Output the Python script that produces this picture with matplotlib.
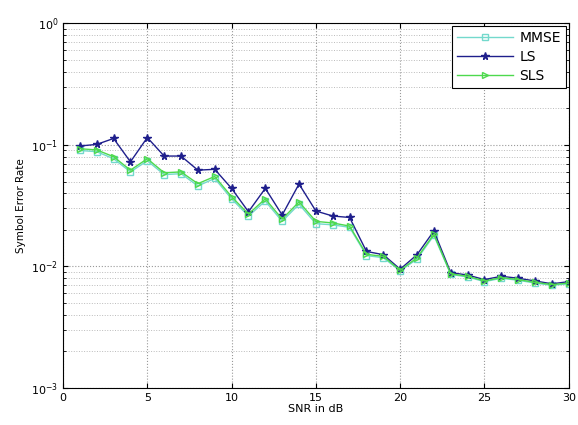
import matplotlib
matplotlib.use("Agg")
import matplotlib.pyplot as plt
from matplotlib.ticker import LogLocator, NullFormatter

snr = list(range(1, 31))
ls = [0.098, 0.101, 0.113, 0.0726, 0.115, 0.081, 0.081, 0.062, 0.063, 0.0439,
      0.0282, 0.0439, 0.0265, 0.0477, 0.0286, 0.026, 0.0253, 0.0133, 0.0125, 0.0095,
      0.0125, 0.0196, 0.0089, 0.0085, 0.0078, 0.0083, 0.0080, 0.0076, 0.0072, 0.0075]
sls = [0.093, 0.091, 0.080, 0.062, 0.077, 0.059, 0.060, 0.048, 0.055, 0.0375,
       0.027, 0.036, 0.0245, 0.034, 0.0235, 0.0228, 0.0215, 0.0126, 0.0121, 0.0093,
       0.0118, 0.0184, 0.0087, 0.0083, 0.0076, 0.0081, 0.0078, 0.0074, 0.0071, 0.0073]
mmse = [0.090, 0.088, 0.077, 0.060, 0.074, 0.057, 0.058, 0.046, 0.053, 0.036,
        0.026, 0.0345, 0.0235, 0.0325, 0.0225, 0.022, 0.021, 0.0123, 0.0118, 0.0092,
        0.0115, 0.018, 0.0086, 0.0082, 0.0075, 0.008, 0.0077, 0.0073, 0.007, 0.0072]

fig = plt.figure(figsize=(5.78, 4.25), dpi=100)
ax = fig.add_axes([0.109, 0.087, 0.875, 0.858])

ax.semilogy(snr, mmse, color=(0.45, 0.85, 0.8), marker='s', mfc='none', ms=4.5, lw=1, label='MMSE')
ax.semilogy(snr, ls, color=(0.12, 0.12, 0.55), marker='*', ms=5.5, lw=1, label='LS')
ax.semilogy(snr, sls, color=(0.3, 0.85, 0.3), marker='>', mfc='none', ms=4.5, lw=1, label='SLS')

ax.set_xlim(0, 30)
ax.set_ylim(1e-3, 1)
ax.set_xticks([0, 5, 10, 15, 20, 25, 30])
ax.yaxis.set_minor_locator(LogLocator(base=10, subs=range(2, 10)))
ax.yaxis.set_minor_formatter(NullFormatter())
ax.grid(True, which='major', linestyle=':', color='#999999', lw=0.8)
ax.grid(True, which='minor', axis='y', linestyle=':', color='#bbbbbb', lw=0.7)
ax.tick_params(which='both', direction='in', top=True, right=True, labelsize=8)
ax.set_xlabel('SNR in dB', fontsize=8, labelpad=1)
ax.set_ylabel('Symbol Error Rate', fontsize=7.5)
leg = ax.legend(loc='upper right', fontsize=10, fancybox=False, edgecolor='black',
                framealpha=1, handlelength=4.0, borderaxespad=0.2, labelspacing=0.35,
                handletextpad=0.5, borderpad=0.35)
leg.get_frame().set_linewidth(0.8)

fig.savefig('out.png', dpi=100)
